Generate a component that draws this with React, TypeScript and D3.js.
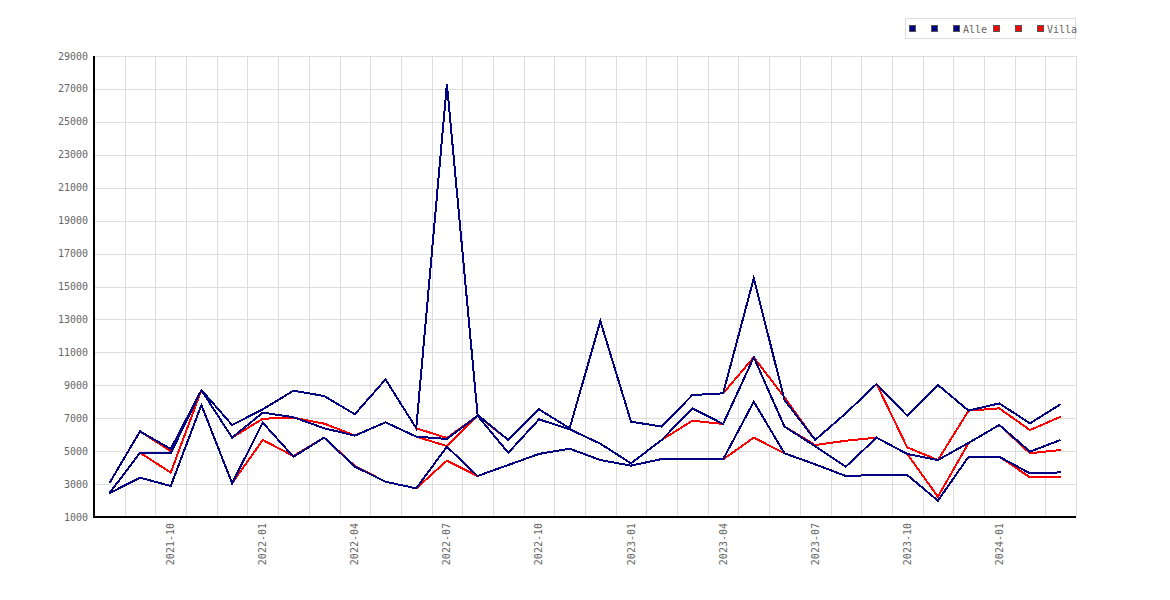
import * as d3 from "d3";

const months = [
  "2021-08", "2021-09", "2021-10", "2021-11", "2021-12",
  "2022-01", "2022-02", "2022-03", "2022-04", "2022-05", "2022-06",
  "2022-07", "2022-08", "2022-09", "2022-10", "2022-11", "2022-12",
  "2023-01", "2023-02", "2023-03", "2023-04", "2023-05", "2023-06",
  "2023-07", "2023-08", "2023-09", "2023-10", "2023-11", "2023-12",
  "2024-01", "2024-02", "2024-03",
];

const yTicks = [1000, 3000, 5000, 7000, 9000, 11000, 13000, 15000, 17000, 19000, 21000, 23000, 25000, 27000, 29000];

// Alle: three lines
const alleHigh = [
  3050, 6200, 5130, 8710, 6590, 7540, 8670, 8350, 7240, 9360, 6390, 27300,
  7200, 5680, 7540, 6390, 12900, 6790, 6490, 8410, 8510, 15500, 8110, 5680,
  7300, 9080, 7150, 9020, 7460, 7900, 6690, 7850,
];
const alleMid = [
  2440, 4900, 4870, 8700, 5820, 7340, 7060, 6390, 5940, 6750, 5880, 5740,
  7150, 4900, 6930, 6330, 5450, 4260, 5680, 7600, 6650, 10700, 6490, 5300,
  4060, 5820, 4830, 4460, 5500, 6590, 4970, 5680,
];
const alleLow = [
  2440, 3390, 2880, 7800, 3050, 6730, 4660, 5820, 4060, 3140, 2740, 5270,
  3490, 4160, 4830, 5150, 4460, 4120, 4520, 4520, 4500, 8000, 4870, 4200,
  3490, 3550, 3550, 1990, 4660, 4660, 3650, 3710,
];

// Villa: three lines
const villaHigh = [
  3050, 6200, 5000, 8710, 6590, 7540, 8670, 8350, 7240, 9360, 6390, 5800,
  7150, 5680, 7540, 6390, 12900, 6790, 6490, 8410, 8510, 10700, 8270, 5680,
  7300, 9080, 5230, 4460, 7460, 7600, 6280, 7090,
];
const villaMid = [
  2440, 4900, 3700, 8700, 5820, 6970, 7030, 6670, 5950, 6750, 5880, 5310,
  7150, 4900, 6930, 6330, 5450, 4260, 5680, 6850, 6650, 10700, 6490, 5370,
  5630, 5820, 4830, 2230, 5500, 6590, 4870, 5070,
];
const villaLow = [
  2440, 3390, 2880, 7800, 3050, 5680, 4700, 5820, 4100, 3140, 2740, 4420,
  3490, 4160, 4830, 5150, 4460, 4120, 4520, 4520, 4500, 5820, 4870, 4200,
  3490, 3550, 3550, 1990, 4660, 4660, 3410, 3410,
];

const legendItems = [
  { label: "", color: "#000080" },
  { label: "", color: "#000080" },
  { label: "Alle", color: "#000080" },
  { label: "", color: "#ff0000" },
  { label: "", color: "#ff0000" },
  { label: "Villa", color: "#ff0000" },
];

const font = "'DejaVu Sans Mono', monospace";

export default function App() {
  const left = 94;
  const right = 1076;
  const top = 56;
  const bottom = 517;

  const x = d3.scaleBand().domain(months).range([left, right]);
  const y = d3.scaleLinear().domain([1000, 29000]).range([bottom, top]);
  const cx = (m: string) => (x(m) || 0) + x.bandwidth() / 2;

  const line = d3
    .line<number>()
    .x((_, i) => cx(months[i]))
    .y((d) => y(d));

  // Villa drawn first, Alle on top
  const series = [
    { values: villaHigh, color: "#ff0000" },
    { values: villaMid, color: "#ff0000" },
    { values: villaLow, color: "#ff0000" },
    { values: alleHigh, color: "#000080" },
    { values: alleMid, color: "#000080" },
    { values: alleLow, color: "#000080" },
  ];

  const labelMonths = months.filter((m) => /-(01|04|07|10)$/.test(m));

  return (
    <svg
      width={1170}
      height={600}
      style={{ position: "absolute", left: 0, top: 0 }}
    >
      <rect width={1170} height={600} fill="#fff" />

      {/* grid */}
      {yTicks.map((t) => (
        <line
          key={`gy-${t}`}
          x1={left}
          x2={right}
          y1={Math.round(y(t)) + 0.5}
          y2={Math.round(y(t)) + 0.5}
          stroke="#dddddd"
          strokeWidth={1}
        />
      ))}
      {months.slice(1).map((m) => (
        <line
          key={`gx-${m}`}
          x1={Math.round(x(m) || 0) + 0.5}
          x2={Math.round(x(m) || 0) + 0.5}
          y1={top}
          y2={bottom}
          stroke="#dddddd"
          strokeWidth={1}
        />
      ))}
      <line x1={right + 0.5} x2={right + 0.5} y1={top} y2={bottom} stroke="#dddddd" />

      {/* lines */}
      {series.map((s, i) => (
        <path
          key={i}
          d={line(s.values) || ""}
          fill="none"
          stroke={s.color}
          strokeWidth={2}
          strokeLinejoin="miter"
          shapeRendering="crispEdges"
        />
      ))}

      {/* axes */}
      <line x1={left} x2={left} y1={top} y2={bottom + 1} stroke="#000" strokeWidth={2} />
      <line x1={left} x2={right} y1={bottom} y2={bottom} stroke="#000" strokeWidth={2} />

      {yTicks.map((t) => (
        <text
          key={`yl-${t}`}
          x={88}
          y={y(t)}
          textAnchor="end"
          dominantBaseline="central"
          fontFamily={font}
          fontSize={10}
          fill="#666"
        >
          {t}
        </text>
      ))}

      {labelMonths.map((m) => (
        <text
          key={`xl-${m}`}
          transform={`translate(${cx(m)},${bottom + 6}) rotate(-90)`}
          textAnchor="end"
          dominantBaseline="central"
          fontFamily={font}
          fontSize={10}
          fill="#666"
        >
          {m}
        </text>
      ))}

      {/* legend */}
      <rect x={905.5} y={18.5} width={170} height={20} fill="#fff" stroke="#dddddd" />
      {(() => {
        let pos = 909;
        return legendItems.map((it, i) => {
          const sx = pos;
          const labelW = it.label.length * 6;
          pos += it.label ? 16 + labelW : 22;
          return (
            <g key={`lg-${i}`}>
              <rect x={sx + 0.5} y={25.5} width={6} height={6} fill={it.color} stroke="#555" strokeWidth={1} />
              {it.label && (
                <text
                  x={sx + 10}
                  y={29}
                  dominantBaseline="central"
                  fontFamily={font}
                  fontSize={10}
                  fill="#666"
                >
                  {it.label}
                </text>
              )}
            </g>
          );
        });
      })()}
    </svg>
  );
}
